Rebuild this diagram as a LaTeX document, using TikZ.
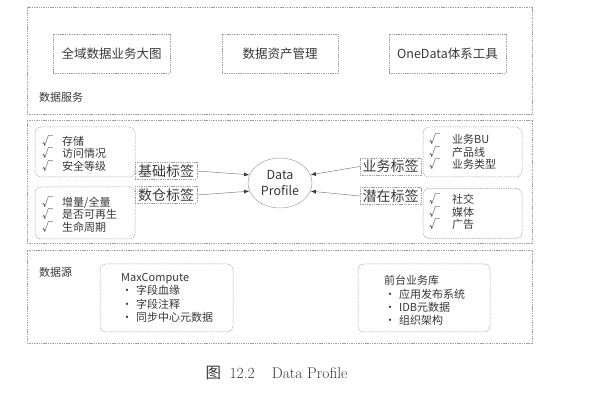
\documentclass[tikz,border=0pt]{standalone}
\usepackage{fontspec}
\newfontfamily\cjk{Noto Sans CJK SC}
\usetikzlibrary{arrows.meta,shapes.geometric}
\definecolor{bordergray}{RGB}{160,160,160}
\definecolor{arrowgray}{RGB}{130,130,130}
\definecolor{txt}{RGB}{55,55,55}
\newcommand{\chkitem}[1]{\makebox[20pt][l]{√}#1}
\newcommand{\chkitemr}[1]{\makebox[23pt][l]{√}#1}
\newcommand{\dotitem}[1]{\hspace*{1pt}\makebox[10pt][c]{·}\hspace{4pt}#1}
\tikzset{
  dbox/.style={draw=bordergray, line width=0.5pt, dash pattern=on 1.4pt off 0.9pt, inner sep=0pt},
  rbox/.style={dbox, rounded corners=6pt},
  outerbox/.style={dbox, minimum width=505pt},
  svcbox/.style={dbox, minimum width=117pt, minimum height=39pt, text=txt, font=\cjk\fontsize{12.5}{14}\selectfont},
  seclbl/.style={anchor=west, inner sep=0pt, text=txt, font=\cjk\fontsize{11}{13}\selectfont},
  listtxt/.style={anchor=west, inner sep=0pt, align=left, text=txt, font=\cjk\fontsize{11}{12.5}\selectfont},
  srctxt/.style={anchor=west, inner sep=0pt, align=left, text=txt, font=\cjk\fontsize{11}{13.3}\selectfont},
  tagbox/.style={dbox, minimum width=62pt, minimum height=17pt, text=txt, font=\cjk\fontsize{14}{16}\selectfont},
  arr/.style={draw=arrowgray, line width=0.5pt, -{Latex[length=5.5pt,width=4pt,color=txt]}},
}
\begin{document}
\begin{tikzpicture}[x=1pt,y=-1pt]
\useasboundingbox (0,0) rectangle (595,403);
% ---- data services
\node[outerbox, minimum height=107pt] (svc) at (279.5,60.5) {};
\node[svcbox] (b1) at (111.5,53.5) {全域数据业务大图};
\node[svcbox, minimum width=116pt] (b2) at (280,53.5) {数据资产管理};
\node[svcbox] (b3) at (447.5,53.5) {OneData体系工具};
\node[seclbl] (svclbl) at (39,97) {数据服务};
% ---- middle
\node[outerbox, minimum height=123pt] (mid) at (279.5,181.5) {};
\node[rbox, minimum width=100pt, minimum height=50pt] (l1) at (85,152) {};
\node[listtxt] (l1t) at (42,153.3) {\chkitem{存储}\\\chkitem{访问情况}\\\chkitem{安全等级}};
\node[rbox, minimum width=100pt, minimum height=52pt] (l2) at (85,213) {};
\node[listtxt] (l2t) at (42,214.2) {\chkitem{增量/全量}\\\chkitem{是否可再生}\\\chkitem{生命周期}};
\node[rbox, minimum width=99pt, minimum height=50pt] (r1) at (472.5,152) {};
\node[listtxt] (r1t) at (429,152) {\chkitemr{业务BU}\\\chkitemr{产品线}\\\chkitemr{业务类型}};
\node[rbox, minimum width=99pt, minimum height=50pt] (r2) at (472.5,213.3) {};
\node[listtxt] (r2t) at (429,212) {\chkitemr{社交}\\\chkitemr{媒体}\\\chkitemr{广告}};
\node[tagbox] (jc) at (166,171) {基础标签};
\node[tagbox] (sc) at (166,195) {数仓标签};
\node[tagbox, minimum width=61pt] (yw) at (390.5,166.5) {业务标签};
\node[tagbox, minimum width=61pt] (qz) at (390.5,196) {潜在标签};
\node[ellipse, draw=bordergray, line width=0.5pt, minimum width=64pt, minimum height=50pt, inner sep=0pt, align=center, text=txt, font=\cjk\fontsize{12.5}{16}\selectfont] (dp) at (280,183) {Data\\Profile};
\draw[arr] (jc.east) -- (dp.165);
\draw[arr] (sc.east) -- (dp.195);
\draw[arr] (yw.west) -- (dp.15);
\draw[arr] (qz.west) -- (dp.-15);
% ---- data sources
\node[outerbox, minimum height=93pt] (src) at (279.5,296.5) {};
\node[seclbl] (srclbl) at (39,272) {数据源};
\node[rbox, minimum width=133pt, minimum height=68pt] (mc) at (166.5,298) {};
\node[srctxt] (mct) at (121,298) {MaxCompute\\\dotitem{字段血缘}\\\dotitem{字段注释}\\\dotitem{同步中心元数据}};
\node[rbox, minimum width=132pt, minimum height=68pt] (fe) at (424,298) {};
\node[srctxt] (fet) at (384,300.5) {前台业务库\\\dotitem{应用发布系统}\\\dotitem{IDB元数据}\\\dotitem{组织架构}};
% ---- caption
\node[text=txt, inner sep=0pt, font=\fontsize{15.5}{18}\selectfont] (cap) at (276.5,373) {{\cjk 图}\hspace{0.55em}12.2\hspace{1.1em}Data Profile};
\end{tikzpicture}
\end{document}
